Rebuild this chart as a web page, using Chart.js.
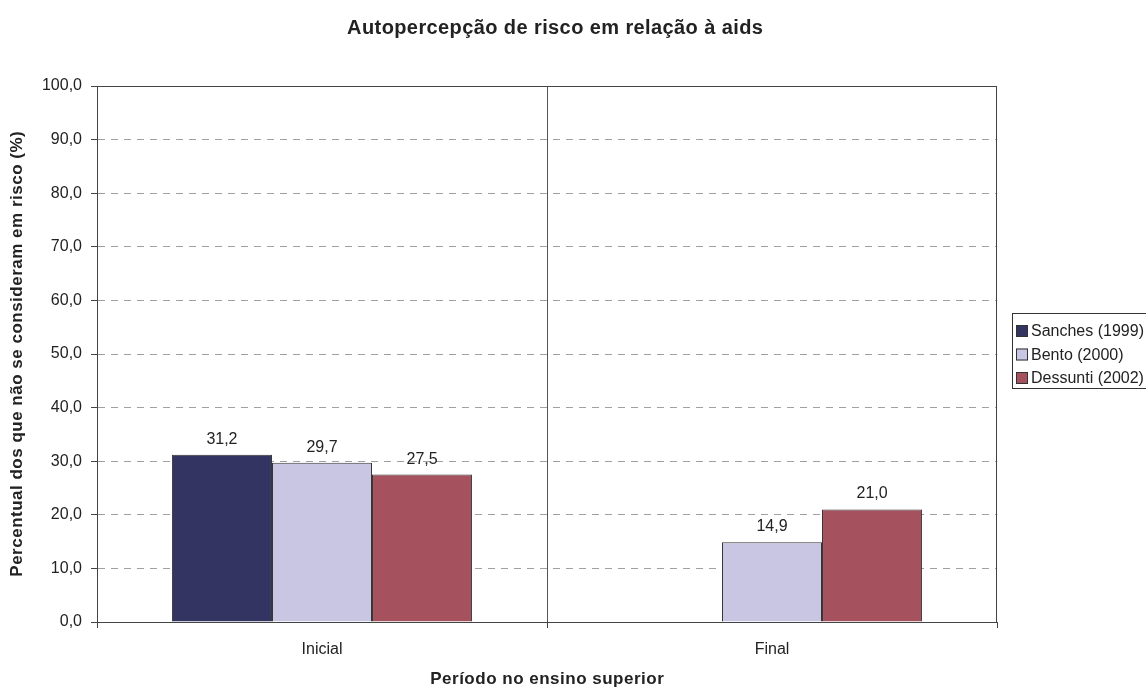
<!DOCTYPE html>
<html>
<head>
<meta charset="utf-8">
<script src="https://cdn.jsdelivr.net/npm/chart.js@4"></script>
<style>
  html, body { margin: 0; padding: 0; background: #fff; }
  #wrap { width: 1146px; height: 689px; }
</style>
</head>
<body>
<div id="wrap"><canvas id="chart01"></canvas></div>
<script>
const periods = ['Inicial', 'Final'];
const sanches = [31.2, null];
const bento = [29.7, 14.9];
const dessunti = [27.5, 21.0];
const yTicks = [0, 10, 20, 30, 40, 50, 60, 70, 80, 90, 100];

const FONT = "'Liberation Sans', Arial, sans-serif";
const fmt = v => v.toFixed(1).replace('.', ',');

// small helper for spaced-out text
function spaced(ctx, text, x, y, font, spacing) {
    ctx.font = font;
    ctx.letterSpacing = spacing + 'px';
    ctx.fillText(text, x + spacing / 2, y);
    ctx.letterSpacing = '0px';
}

// title, axis titles, frame, value labels and the boxed legend
const extras = {
    id: 'extras',
    afterDatasetsDraw(chart) {
        const { ctx, chartArea: a } = chart;
        ctx.save();
        ctx.strokeStyle = '#444';
        ctx.lineWidth = 1;
        ctx.strokeRect(a.left + 0.5, a.top + 0.5, a.right - a.left - 1, a.bottom - a.top);

        ctx.fillStyle = '#222';
        ctx.font = '16px ' + FONT;
        ctx.textAlign = 'center';
        ctx.textBaseline = 'alphabetic';
        chart.data.datasets.forEach((ds, i) => {
            chart.getDatasetMeta(i).data.forEach((bar, j) => {
                const v = ds.data[j];
                if (v == null) return;
                ctx.fillText(fmt(v), bar.x, bar.y - 11);
            });
        });

        ctx.textBaseline = 'middle';
        spaced(ctx, 'Autopercepção de risco em relação à aids', 555, 28, 'bold 20px ' + FONT, 0.4);
        spaced(ctx, 'Período no ensino superior', (a.left + a.right) / 2, 679, 'bold 17px ' + FONT, 0.5);
        ctx.save();
        ctx.translate(17, (a.top + a.bottom) / 2);
        ctx.rotate(-Math.PI / 2);
        spaced(ctx, 'Percentual dos que não se consideram em risco (%)', 0, 0, 'bold 17px ' + FONT, 0.5);
        ctx.restore();

        // legend
        ctx.strokeStyle = '#333';
        ctx.strokeRect(1012.5, 313.5, 140, 75);
        ctx.font = '16px ' + FONT;
        ctx.textAlign = 'left';
        chart.data.datasets.forEach((ds, i) => {
            const y = 331 + i * 23.5;
            ctx.fillStyle = ds.backgroundColor;
            ctx.fillRect(1016, y - 6, 12, 12);
            ctx.strokeStyle = '#333';
            ctx.strokeRect(1016.5, y - 5.5, 11, 11);
            ctx.fillStyle = '#222';
            ctx.fillText(ds.label, 1031, y + 1);
        });
        ctx.restore();
    }
};

new Chart(document.getElementById('chart01').getContext('2d'), {
    type: 'bar',
    data: {
        labels: periods,
        datasets: [
            { label: 'Sanches (1999)', data: sanches, backgroundColor: '#333461' },
            { label: 'Bento (2000)', data: bento, backgroundColor: '#c8c6e2' },
            { label: 'Dessunti (2002)', data: dessunti, backgroundColor: '#a5525e' }
        ].map(d => Object.assign(d, { borderColor: '#333', borderWidth: 1, borderSkipped: 'bottom' }))
    },
    options: {
        responsive: true,
        maintainAspectRatio: false,
        animation: false,
        datasets: { bar: { categoryPercentage: 0.667, barPercentage: 1 } },
        layout: { padding: { top: 86, right: 149, left: 0, bottom: 0 } },
        plugins: {
            legend: { display: false },
            tooltip: { enabled: false }
        },
        scales: {
            x: {
                afterFit: s => { s.height = 67; },
                grid: {
                    offset: true,
                    drawOnChartArea: true,
                    color: c => (c.index === 1 ? '#555' : 'rgba(0,0,0,0)'),
                    tickColor: '#444',
                    tickLength: 6
                },
                border: { color: '#444' },
                ticks: { color: '#222', font: { family: FONT, size: 16 }, padding: 12 }
            },
            y: {
                min: 0,
                max: 100,
                afterFit: s => { s.width = 97; },
                afterBuildTicks: s => { s.ticks = yTicks.map(v => ({ value: v })); },
                grid: {
                    color: c => (c.index === 0 || c.index === yTicks.length - 1 ? 'rgba(0,0,0,0)' : '#a0a0a0'),
                    tickColor: '#444',
                    tickBorderDash: [],
                    tickLength: 6
                },
                border: { color: '#444', dash: [7, 6] },
                ticks: {
                    color: '#222',
                    font: { family: FONT, size: 16 },
                    padding: 9,
                    callback: v => fmt(v)
                }
            }
        }
    },
    plugins: [extras]
});
</script>
</body>
</html>
